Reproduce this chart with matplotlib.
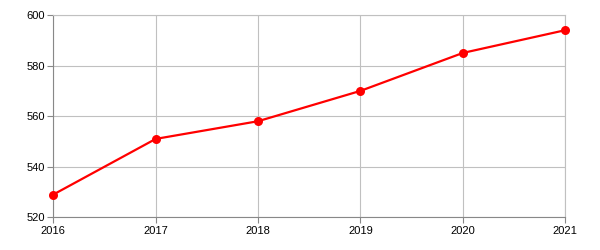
import matplotlib
matplotlib.use("Agg")
import matplotlib.pyplot as plt

years = [2016, 2017, 2018, 2019, 2020, 2021]
values = [529, 551, 558, 570, 585, 594]
y_ticks = [520, 540, 560, 580, 600]

plt.rcParams['font.family'] = ['Liberation Sans', 'DejaVu Sans']

fig = plt.figure(figsize=(6, 2.5), dpi=100)
ax = fig.add_axes([53.3/600, 1 - 217.3/250, (565.3-53.3)/600, (217.3-15)/250])

ax.plot(years, values, color='#ff0000', linewidth=1.6, marker='o', markersize=6.5,
        markeredgewidth=0, zorder=3, clip_on=False)

ax.set_xlim(2016, 2021)
ax.set_ylim(520, 600)
ax.set_xticks(years)
ax.set_yticks(y_ticks)
ax.grid(True, color='#c0c0c0', linewidth=0.8)
ax.set_axisbelow(True)

for s in ['top', 'right']:
    ax.spines[s].set_color('#c0c0c0')
    ax.spines[s].set_linewidth(0.8)
for s in ['left', 'bottom']:
    ax.spines[s].set_color('#888888')
    ax.spines[s].set_linewidth(0.8)

ax.tick_params(axis='both', labelsize=8, colors='#000000', length=4, width=0.8,
               direction='out', pad=2)
ax.tick_params(axis='both', color='#888888')

fig.savefig('out.png', dpi=100)
